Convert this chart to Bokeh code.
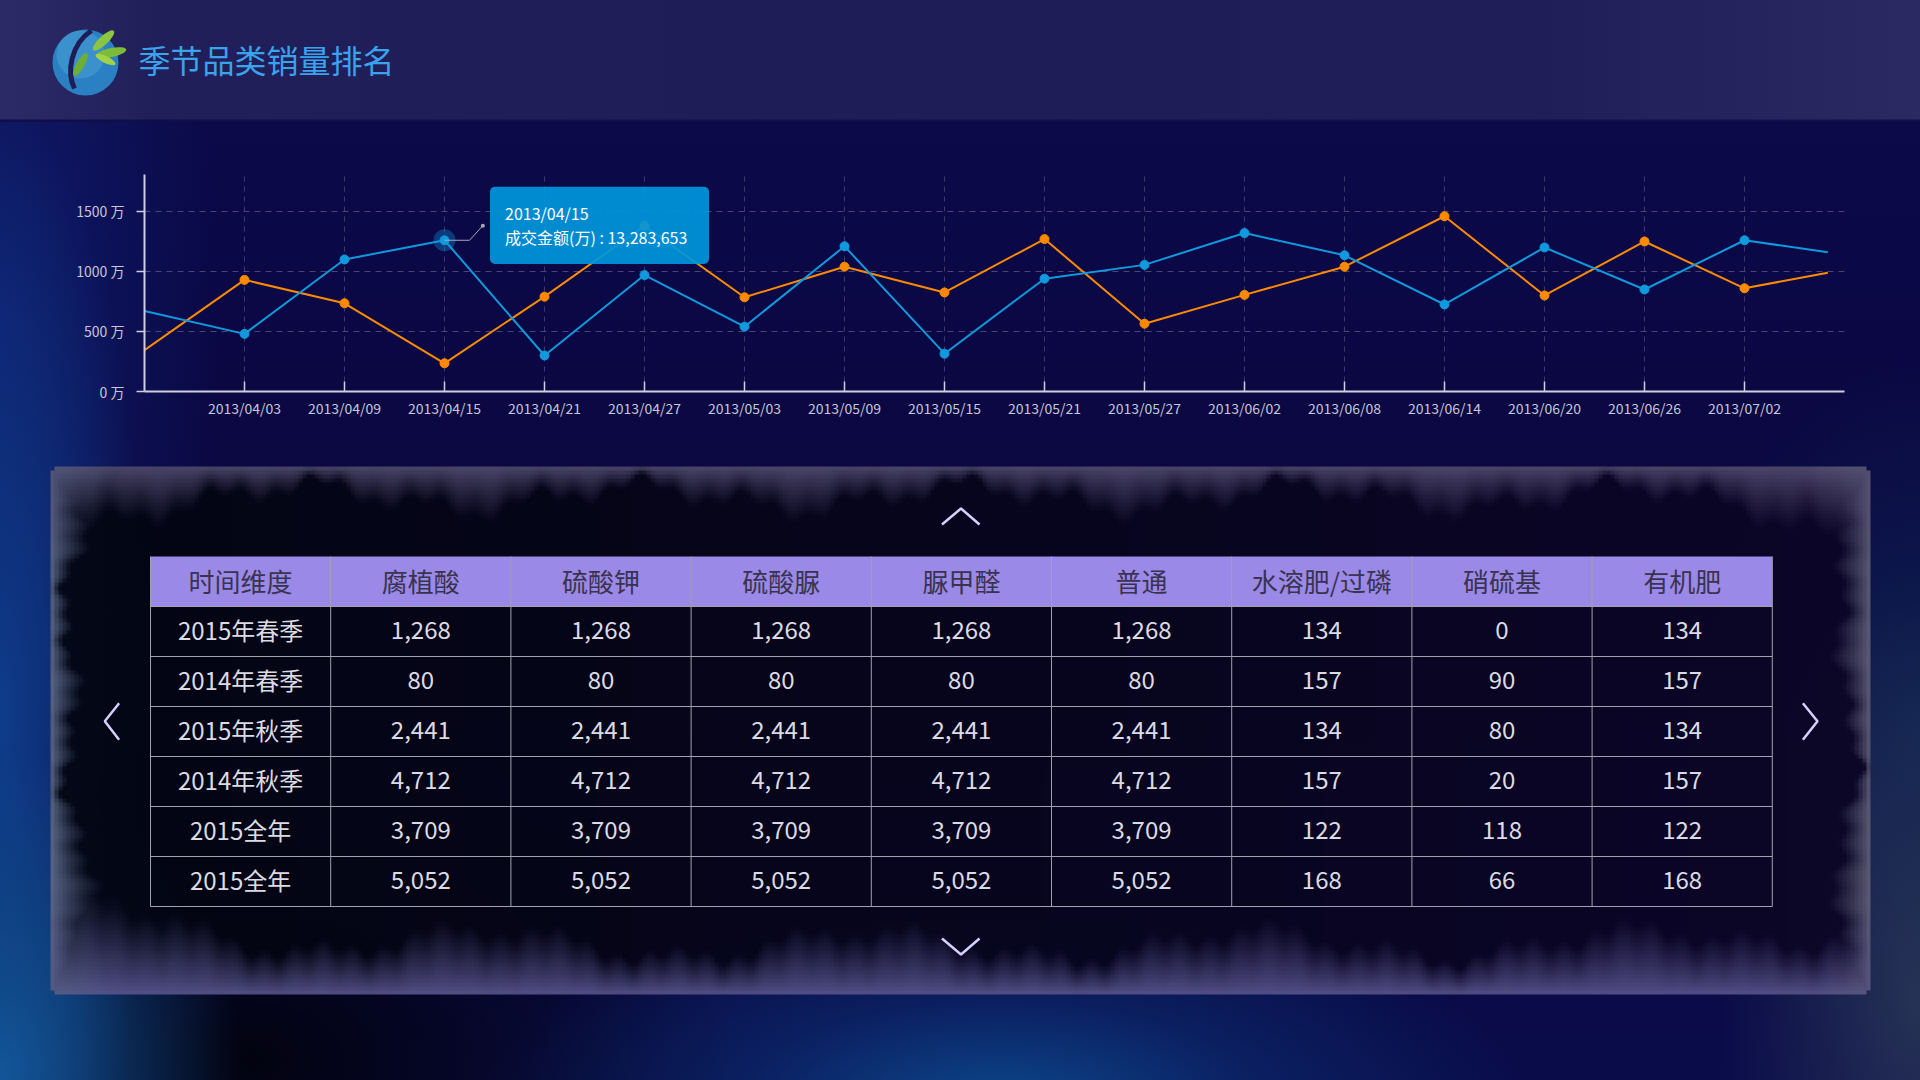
import numpy as np
import pandas as pd
from bokeh.plotting import figure
from bokeh.layouts import column
from bokeh.models import Range1d, FixedTicker, DatetimeTickFormatter, ColumnDataSource, BoxAnnotation, Label
from bokeh.core.properties import value
from bokeh.embed import file_html
from bokeh.resources import INLINE

# ---------------- data ----------------
TITLE = "季节品类销量排名"
dates = ["2013/03/28", "2013/04/03", "2013/04/09", "2013/04/15", "2013/04/21", "2013/04/27",
         "2013/05/03", "2013/05/09", "2013/05/15", "2013/05/21", "2013/05/27", "2013/06/02",
         "2013/06/08", "2013/06/14", "2013/06/20", "2013/06/26", "2013/07/02", "2013/07/07"]
blue_values = [670, 480, 1100, 1260, 300, 970, 540, 1210, 315, 940, 1055, 1320, 1135, 725, 1200, 850, 1260, 1160]
orange_values = [345, 930, 735, 235, 790, 1380, 785, 1040, 825, 1270, 565, 805, 1040, 1460, 800, 1250, 860, 990]
x_tick_labels = ["2013/04/03", "2013/04/09", "2013/04/15", "2013/04/21", "2013/04/27", "2013/05/03",
                 "2013/05/09", "2013/05/15", "2013/05/21", "2013/05/27", "2013/06/02", "2013/06/08",
                 "2013/06/14", "2013/06/20", "2013/06/26", "2013/07/02"]
x_axis_start = "2013/03/28"
x_axis_end = "2013/07/08"
y_ticks = [0, 500, 1000, 1500]
y_unit = "万"
tooltip_date = "2013/04/15"
tooltip_series = "成交金额(万)"
tooltip_value = 13283653

table_columns = ["时间维度", "腐植酸", "硫酸钾", "硫酸脲", "脲甲醛", "普通", "水溶肥/过磷", "硝硫基", "有机肥"]
table_periods = ["2015年春季", "2014年春季", "2015年秋季", "2014年秋季", "2015全年", "2015全年"]
col_humic = [1268, 80, 2441, 4712, 3709, 5052]
col_k2so4 = [1268, 80, 2441, 4712, 3709, 5052]
col_urea_sulfate = [1268, 80, 2441, 4712, 3709, 5052]
col_ureaform = [1268, 80, 2441, 4712, 3709, 5052]
col_normal = [1268, 80, 2441, 4712, 3709, 5052]
col_watersoluble = [134, 157, 134, 157, 122, 168]
col_nitrosulfur = [0, 90, 80, 20, 118, 66]
col_organic = [134, 157, 134, 157, 122, 168]
table_value_columns = [col_humic, col_k2so4, col_urea_sulfate, col_ureaform, col_normal,
                       col_watersoluble, col_nitrosulfur, col_organic]

# ---------------- style ----------------
FONT = "Noto Sans CJK SC"
BLUE = "#1199dd"
ORANGE = "#ff8a00"
AXIS_C = "#cfcde0"
LABEL_C = "#c8c6d8"
W = 1920


def clean(fig):
    fig.background_fill_alpha = 0
    fig.border_fill_alpha = 0
    fig.outline_line_color = None
    fig.frame_align = False


# ================= header (page y 0..122) =================
HH = 122
hf = figure(width=W, height=HH, x_range=Range1d(0, W), y_range=Range1d(0, HH),
            x_axis_type=None, y_axis_type=None, min_border=0, output_backend="svg",
            toolbar_location=None,
            styles={"background": "linear-gradient(180deg, rgba(0,0,0,0) 0px, rgba(0,0,0,0) 119px, "
                                  "rgba(16,15,74,1) 120px, rgba(13,12,70,1) 122px), "
                                  "linear-gradient(90deg, #2d2b67 0%, #211f5a 8%, #1f1d57 45%, "
                                  "#201e58 80%, #2b2962 100%)"})
clean(hf)
hy = lambda ry: HH - ry
# logo
hf.circle(x=[85], y=[hy(62)], radius=33, fill_color="#2a80c2", line_color=None)
hf.circle(x=[80], y=[hy(54)], radius=24, fill_color="#4fa6d8", fill_alpha=0.45, line_color=None)
hf.bezier(x0=[91], y0=[hy(30)], x1=[74], y1=[hy(88)], cx0=[70], cy0=[hy(44)], cx1=[66], cy1=[hy(72)],
          line_color="#1f1d57", line_width=5)
hf.ellipse(x=[80, 103, 111, 105], y=[hy(64), hy(40), hy(52), hy(59)],
           width=[26, 28, 30, 22], height=[8, 9, 9, 7],
           angle=[1.05, 0.75, 0.2, -0.45],
           fill_color=["#6fae35", "#8cc540", "#7dbb3a", "#a2d24a"], line_color=None)
hf.text(x=[138], y=[hy(58)], text=[TITLE], text_color="#3aa3ec", text_font=value(FONT),
        text_font_size="32px", text_align="left", text_baseline="middle")

# ================= line chart (page y 122..458) =================
xd = pd.to_datetime(dates, format="%Y/%m/%d")
src = ColumnDataSource(dict(x=xd, blue=blue_values, orange=orange_values))
mk = ColumnDataSource(dict(x=xd[1:-1], blue=blue_values[1:-1], orange=orange_values[1:-1]))

chart = figure(width=W, height=336, x_axis_type="datetime",
               x_range=Range1d(pd.Timestamp(x_axis_start), pd.Timestamp(x_axis_end)),
               y_range=Range1d(0, 1808), min_border_left=144, min_border_right=76,
               min_border_top=52, min_border_bottom=67, output_backend="svg",
               toolbar_location=None)
clean(chart)

tick_ms = [pd.Timestamp(d).timestamp() * 1000 for d in x_tick_labels]
xa = chart.xaxis[0]
xa.ticker = FixedTicker(ticks=tick_ms)
xa.formatter = DatetimeTickFormatter(days="%Y/%m/%d", months="%Y/%m/%d", years="%Y/%m/%d")
xa.axis_line_color = AXIS_C
xa.axis_line_width = 2
xa.major_tick_line_color = AXIS_C
xa.major_tick_line_width = 1.5
xa.major_tick_in = 10
xa.major_tick_out = 0
xa.minor_tick_line_color = None
xa.major_label_text_color = LABEL_C
xa.major_label_text_font = FONT
xa.major_label_text_font_size = "14px"
xa.major_label_standoff = 6

ya = chart.yaxis[0]
ya.ticker = FixedTicker(ticks=y_ticks)
ya.major_label_overrides = {v: f"{v} {y_unit}" for v in y_ticks}
ya.axis_line_color = AXIS_C
ya.axis_line_width = 2
ya.major_tick_line_color = AXIS_C
ya.major_tick_line_width = 1.5
ya.major_tick_in = 0
ya.major_tick_out = 8
ya.minor_tick_line_color = None
ya.major_label_text_color = LABEL_C
ya.major_label_text_font = FONT
ya.major_label_text_font_size = "14px"
ya.major_label_standoff = 12

chart.xgrid.ticker = FixedTicker(ticks=tick_ms)
chart.xgrid.grid_line_color = "#3c3a6c"
chart.xgrid.grid_line_dash = "5 5"
chart.ygrid.grid_line_color = "#4a4674"
chart.ygrid.grid_line_dash = "6 5"

chart.line("x", "orange", source=src, line_color=ORANGE, line_width=2)
chart.line("x", "blue", source=src, line_color=BLUE, line_width=2)
chart.scatter("x", "orange", source=mk, size=9, fill_color=ORANGE, line_color=ORANGE)
ti = dates.index(tooltip_date)
chart.scatter(x=[xd[ti]], y=[blue_values[ti]], size=22, fill_color=BLUE, fill_alpha=0.35, line_color=None)
chart.scatter("x", "blue", source=mk, size=9, fill_color=BLUE, line_color=BLUE)

# tooltip
DAY = 86400000.0
t0 = pd.Timestamp(tooltip_date).timestamp() * 1000
v0 = blue_values[ti]
chart.line(x=[t0, t0 + 1.5 * DAY, t0 + 2.3 * DAY], y=[v0, v0, v0 + 122], line_color="#a8a8bc", line_width=1)
chart.scatter(x=[t0 + 2.3 * DAY], y=[v0 + 122], size=4, fill_color="#a8a8bc", line_color=None)
box = BoxAnnotation(left=t0 + 2.73 * DAY, right=t0 + 15.87 * DAY, bottom=1063, top=1705,
                    fill_color="#0096db", fill_alpha=0.93, line_color=None, border_radius=5)
chart.add_layout(box)
chart.add_layout(Label(x=t0 + 3.63 * DAY, y=1490, text=tooltip_date, text_color="white",
                       text_font=FONT, text_font_size="16px", text_baseline="middle"))
chart.add_layout(Label(x=t0 + 3.63 * DAY, y=1290, text=f"{tooltip_series} : {tooltip_value:,}",
                       text_color="white", text_font=FONT, text_font_size="16px",
                       text_baseline="middle"))

# ================= table panel (page y 458..1080) =================
TOP = 458
TH = 1080 - TOP
tf = figure(width=W, height=TH, x_range=Range1d(0, W), y_range=Range1d(0, TH),
            x_axis_type=None, y_axis_type=None, min_border=0, output_backend="svg",
            toolbar_location=None)
clean(tf)
ty = lambda ry: 1080 - ry

# decorative panel (gradient frame)
PX0, PY0, PW, PH, S = 50, 466, 1820, 528, 4
w, h = PW // S, PH // S
gx = (np.arange(w) + 0.5) * S
gy = (np.arange(h) + 0.5) * S
X, Y = np.meshgrid(gx, gy)
tb = 34 + 12 * np.sin(X / 53.0) + 9 * np.sin(X / 17.0 + 1.3) + 5 * np.sin(X / 5.3)
bb = 52 + 14 * np.sin(X / 61.0 + 0.7) + 8 * np.sin(X / 19.0) + 5 * np.sin(X / 4.7)
lb = 16 + 8 * np.sin(Y / 29.0) + 5 * np.sin(Y / 11.0 + 0.5) + 4 * np.sin(Y / 4.1)
rb = 16 + 8 * np.sin(Y / 33.0 + 2.0) + 5 * np.sin(Y / 13.0) + 4 * np.sin(Y / 4.9)
# corners reach further
tb = tb + 60 * np.exp(-X / 40.0) + 70 * np.exp(-(PW - X) / 50.0)
bb = bb + 50 * np.exp(-X / 120.0) + 40 * np.exp(-(PW - X) / 60.0)
lb = lb + 40 * np.exp(-Y / 70.0) + 60 * np.exp(-(PH - Y) / 110.0)
rb = rb + 50 * np.exp(-Y / 110.0) + 40 * np.exp(-(PH - Y) / 90.0)


def fall(d, b):
    return np.clip(1 - d / b, 0, 1) ** 1.1


wt, wb, wl, wr = fall(Y, tb), fall(PH - Y, bb), fall(X, lb), fall(PW - X, rb)
wgt = np.maximum.reduce([wt, wb, wl, wr])
ct = np.array([78, 72, 108.0]); cb = np.array([86, 82, 138.0])
cl = np.array([92, 104, 134.0]); cr = np.array([96, 94, 120.0])
ws = wt + wb + wl + wr + 1e-6
edge = (wt[..., None] * ct + wb[..., None] * cb + wl[..., None] * cl + wr[..., None] * cr) / ws[..., None]
fx = (X / PW)[..., None]
inner = np.array([3, 5, 16.0]) * (1 - fx) + np.array([13, 6, 38.0]) * fx
rgb = inner * (1 - wgt[..., None]) + edge * wgt[..., None]
alpha = 0.93 * (1 - wgt) + 0.97 * wgt
R = 10
cx = np.clip(X, R, PW - R)
cy = np.clip(Y, R, PH - R)
alpha = np.where((X - cx) ** 2 + (Y - cy) ** 2 <= R * R, alpha, 0)
img = np.zeros((h, w), dtype=np.uint32)
view = img.view(np.uint8).reshape((h, w, 4))
view[..., 0] = rgb[..., 0].astype(np.uint8)
view[..., 1] = rgb[..., 1].astype(np.uint8)
view[..., 2] = rgb[..., 2].astype(np.uint8)
view[..., 3] = (alpha * 255).astype(np.uint8)
tf.image_rgba(image=[np.ascontiguousarray(np.flipud(img))], x=PX0, y=ty(PY0 + PH), dw=PW, dh=PH)

# table geometry
T_LEFT, COL_W, T_TOP, ROW_H = 150, 180.2, 556, 50
ncol = len(table_columns)
nrow = len(table_periods)
T_RIGHT = T_LEFT + ncol * COL_W
T_BOTTOM = T_TOP + (nrow + 1) * ROW_H
tf.quad(left=[T_LEFT], right=[T_RIGHT], top=[ty(T_TOP)], bottom=[ty(T_TOP + ROW_H)],
        fill_color="#9a89e6", line_color=None)
hx = [[T_LEFT, T_RIGHT] for k in range(1, nrow + 2)]
hyy = [[ty(T_TOP + k * ROW_H)] * 2 for k in range(1, nrow + 2)]
vx = [[T_LEFT + c * COL_W] * 2 for c in range(ncol + 1)]
vy = [[ty(T_TOP), ty(T_BOTTOM)] for c in range(ncol + 1)]
tf.multi_line(xs=hx + vx, ys=hyy + vy, line_color="#a3a1ab", line_width=1)

centers = [T_LEFT + (c + 0.5) * COL_W for c in range(ncol)]
tf.text(x=centers, y=[ty(T_TOP + ROW_H / 2 - 1)] * ncol, text=table_columns, text_color="#3a3350",
        text_font=value(FONT), text_font_size="26px", text_align="center", text_baseline="middle")
bx, byy, bt = [], [], []
for r in range(nrow):
    yc = ty(T_TOP + (r + 1.5) * ROW_H - 2)
    bx.append(centers[0]); byy.append(yc); bt.append(table_periods[r])
    for c, colvals in enumerate(table_value_columns):
        bx.append(centers[c + 1]); byy.append(yc); bt.append(f"{colvals[r]:,}")
tf.text(x=bx, y=byy, text=bt, text_color="#dcdbe4", text_font=value(FONT), text_font_size="24px",
        text_align="center", text_baseline="middle")

# navigation chevrons
tf.multi_line(xs=[[941.5, 960.5, 979], [941.5, 960.5, 979], [118.6, 104.3, 118.6], [1802.4, 1817, 1802.4]],
              ys=[[ty(524), ty(508), ty(524)], [ty(938), ty(954), ty(938)],
                  [ty(702.7), ty(720.7), ty(739.3)], [ty(702.7), ty(720.7), ty(739.3)]],
              line_color="#d6cfff", line_width=2.5)

bg = ("radial-gradient(520px 200px at 1000px 1100px, rgba(12,80,150,0.85) 0%, rgba(12,60,130,0.4) 50%, rgba(12,60,130,0) 100%), "
      "radial-gradient(240px 320px at 0px 1070px, rgba(20,95,165,0.85) 0%, rgba(20,95,165,0) 100%), "
      "radial-gradient(150px 620px at 0px 720px, rgba(15,75,155,0.75) 0%, rgba(15,75,155,0) 100%), "
      "radial-gradient(220px 700px at 0px 330px, rgba(20,50,150,0.45) 0%, rgba(20,50,150,0) 100%), "
      "radial-gradient(200px 420px at 1920px 1000px, rgba(50,65,90,0.7) 0%, rgba(50,65,90,0) 100%), "
      "radial-gradient(240px 360px at 1920px 720px, rgba(15,50,90,0.55) 0%, rgba(15,50,90,0) 100%), "
      "radial-gradient(500px 300px at 250px 1060px, rgba(0,0,0,0.8) 0%, rgba(0,0,0,0) 100%), "
      "linear-gradient(180deg, #0d0b4a 0px, #0a0846 250px, #0b0841 500px, #0a0a45 900px, #0a0c4a 1080px)")

p = column(hf, chart, tf, spacing=0, styles={"background": bg})

open("out.html", "w", encoding="utf-8").write(file_html(p, INLINE))
